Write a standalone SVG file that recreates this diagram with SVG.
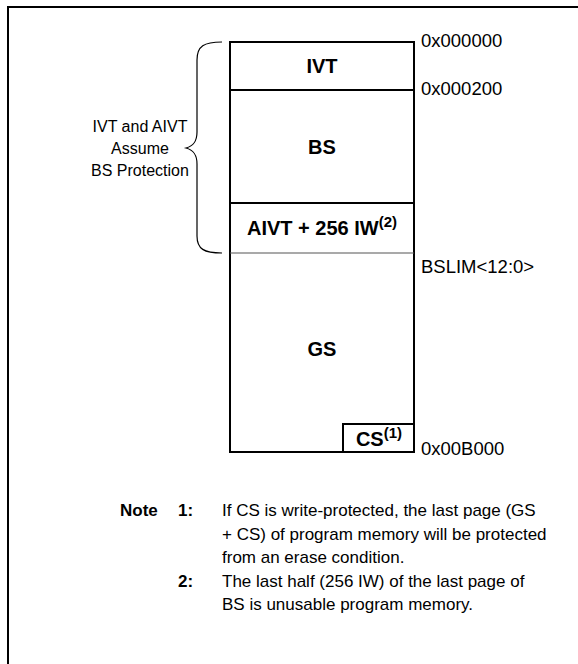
<svg xmlns="http://www.w3.org/2000/svg" width="578" height="664" viewBox="0 0 578 664">
<style>
text{font-family:"Liberation Sans",Arial,sans-serif;font-size:17px;fill:#000}
.b{font-weight:bold}
.m{text-anchor:middle}
.lbl{font-size:20px}
.sup{font-size:15px}
.adr{font-size:18.5px}
.side{font-size:16px}
.ln{stroke:#000;stroke-width:2;fill:none}
</style>
<rect width="578" height="664" fill="#fff"/>
<g id="frame"><path class="ln" d="M8,664 V7 H578"/></g>
<g id="memory">
<rect class="ln" x="230" y="42" width="184" height="410"/>
</g>
<g id="connectors">
<line class="ln" x1="230" y1="90" x2="414" y2="90"/>
<line class="ln" x1="230" y1="203" x2="414" y2="203"/>
<line x1="230" y1="253" x2="414" y2="253" stroke="#555" stroke-width="1.2"/>
<path d="M222,42 C204,42 197,46 197,60 V132 C197,142 193,146 186,148 C193,150 197,154 197,164 V236 C197,249 204,253 222,253" fill="none" stroke="#000" stroke-width="1.2"/>
</g>
<g id="ivt"><text class="b m lbl" x="322" y="73">IVT</text></g>
<g id="bs"><text class="b m lbl" x="322" y="154">BS</text></g>
<g id="aivt"><text class="b m lbl" x="322" y="235">AIVT + 256 IW<tspan class="sup" dy="-8">(2)</tspan></text></g>
<g id="gs"><text class="b m lbl" x="322" y="356">GS</text></g>
<g id="cs"><rect class="ln" x="343" y="424" width="71" height="28"/><text class="b m lbl" x="379" y="446">CS<tspan class="sup" dy="-8">(1)</tspan></text></g>
<g id="addr">
<text class="adr" x="421" y="47">0x000000</text>
<text class="adr" x="421" y="95">0x000200</text>
<text class="adr" x="421" y="273">BSLIM&lt;12:0&gt;</text>
<text class="adr" x="421" y="455">0x00B000</text>
</g>
<g id="brace-label">
<text class="m side" x="140" y="132">IVT and AIVT</text>
<text class="m side" x="140" y="154">Assume</text>
<text class="m side" x="140" y="176">BS Protection</text>
</g>
<g id="notes">
<text class="b" x="120" y="516">Note</text>
<text class="b" x="178" y="516">1:</text>
<text x="222" y="516">If CS is write-protected, the last page (GS</text>
<text x="222" y="540">+ CS) of program memory will be protected</text>
<text x="222" y="563">from an erase condition.</text>
<text class="b" x="178" y="587">2:</text>
<text x="222" y="587">The last half (256 IW) of the last page of</text>
<text x="222" y="610">BS is unusable program memory.</text>
</g>
</svg>
